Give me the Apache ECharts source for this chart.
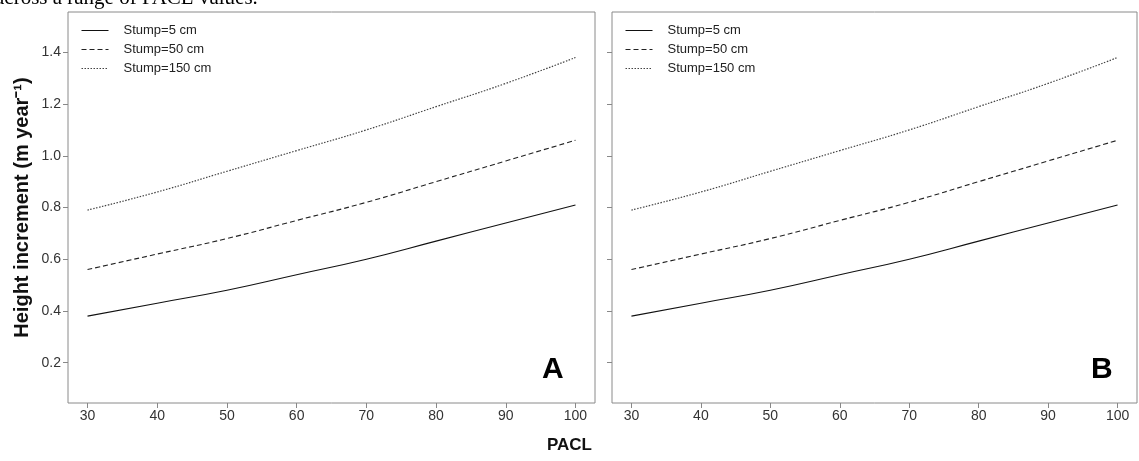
<!DOCTYPE html>
<html>
<head>
<meta charset="utf-8">
<script src="https://cdn.jsdelivr.net/npm/echarts@6/dist/echarts.min.js"></script>
<style>html,body{margin:0;padding:0;background:#fff;}#c{width:1139px;height:461px;}</style>
</head>
<body>
<div id="c"></div>
<script>
// PACL values (x)
const pacl = [30, 40, 50, 60, 70, 80, 90, 100];
// Height increment (m/year) per stump height
const stump5 = [0.38, 0.43, 0.48, 0.54, 0.60, 0.67, 0.74, 0.81];
const stump50 = [0.56, 0.62, 0.68, 0.75, 0.82, 0.90, 0.98, 1.06];
const stump150 = [0.79, 0.86, 0.94, 1.02, 1.10, 1.19, 1.28, 1.38];
const seriesNames = ['Stump=5 cm', 'Stump=50 cm', 'Stump=150 cm'];
const xTicks = [30, 40, 50, 60, 70, 80, 90, 100];
const yTicks = [0.2, 0.4, 0.6, 0.8, 1.0, 1.2, 1.4];
const panelLabels = ['A', 'B'];

const FONT = 'Liberation Sans, Arial, sans-serif';
const chart = echarts.init(document.getElementById('c'));
const pair = arr => pacl.map((x, i) => [x, arr[i]]);
const styles = [
  {type: 'solid', color: '#111', width: 1.1},
  {type: [5, 3], color: '#222', width: 1.1},
  {type: [1.5, 1.5], color: '#444', width: 1.2}
];
const datasets = [stump5, stump50, stump150];
const grids = [
  {left: 68, top: 12, width: 527, height: 391},
  {left: 612, top: 12, width: 525, height: 391}
];
const xAxes = [], yAxes = [], series = [], legends = [];
grids.forEach((g, gi) => {
  xAxes.push({
    type: 'value', gridIndex: gi, min: 27.2, max: 102.8,
    splitLine: {show: false},
    axisLine: {show: false},
    axisTick: {show: true, length: 5, customValues: xTicks, lineStyle: {color: '#888'}},
    axisLabel: {customValues: xTicks, color: '#333', fontSize: 14, margin: 6, fontFamily: FONT}
  });
  yAxes.push({
    type: 'value', gridIndex: gi, min: 0.044, max: 1.556,
    splitLine: {show: false},
    axisLine: {show: false},
    axisTick: {show: true, length: 5, customValues: yTicks, lineStyle: {color: '#888'}},
    axisLabel: {show: gi === 0, customValues: yTicks, color: '#333', fontSize: 14, margin: 7,
      fontFamily: FONT, formatter: v => v.toFixed(1)},
    name: gi === 0 ? 'Height increment (m year⁻¹)' : '',
    nameLocation: 'middle', nameGap: 36,
    nameTextStyle: {fontSize: 20, fontWeight: 'bold', color: '#111', fontFamily: FONT}
  });
  datasets.forEach((d, si) => {
    series.push({
      type: 'line', name: seriesNames[si], xAxisIndex: gi, yAxisIndex: gi,
      data: pair(d), smooth: true, symbol: 'none',
      lineStyle: styles[si], itemStyle: {color: styles[si].color}, silent: true
    });
  });
  legends.push({
    data: seriesNames, orient: 'vertical', left: g.left + 13, top: 24, padding: 0,
    itemWidth: 27, itemHeight: 12, itemGap: 6,
    itemStyle: {opacity: 0},
    lineStyle: {width: 1},
    textStyle: {fontSize: 13, color: '#222', padding: [0, 0, 0, 10], fontFamily: FONT},
    selectedMode: false
  });
});
grids.forEach(g => { g.show = true; g.borderColor = '#8a8a8a'; g.borderWidth = 1; g.backgroundColor = 'transparent'; });

chart.setOption({
  animation: false,
  grid: grids, xAxis: xAxes, yAxis: yAxes, series: series, legend: legends,
  graphic: [
    {type: 'text', left: 'center', top: 437, style: {text: 'PACL', fontSize: 17, fontWeight: 'bold', fill: '#111', fontFamily: FONT}},
    {type: 'text', left: 542, top: 355, style: {text: panelLabels[0], fontSize: 30, fontWeight: 'bold', fill: '#000', fontFamily: FONT}},
    {type: 'text', left: 1091, top: 355, style: {text: panelLabels[1], fontSize: 30, fontWeight: 'bold', fill: '#000', fontFamily: FONT}},
    {type: 'text', x: -5, y: -12, style: {text: 'across a range of PACL values.', fontSize: 21, fill: '#000', fontFamily: 'Liberation Serif, Times New Roman, serif'}}
  ]
});
</script>
</body>
</html>
